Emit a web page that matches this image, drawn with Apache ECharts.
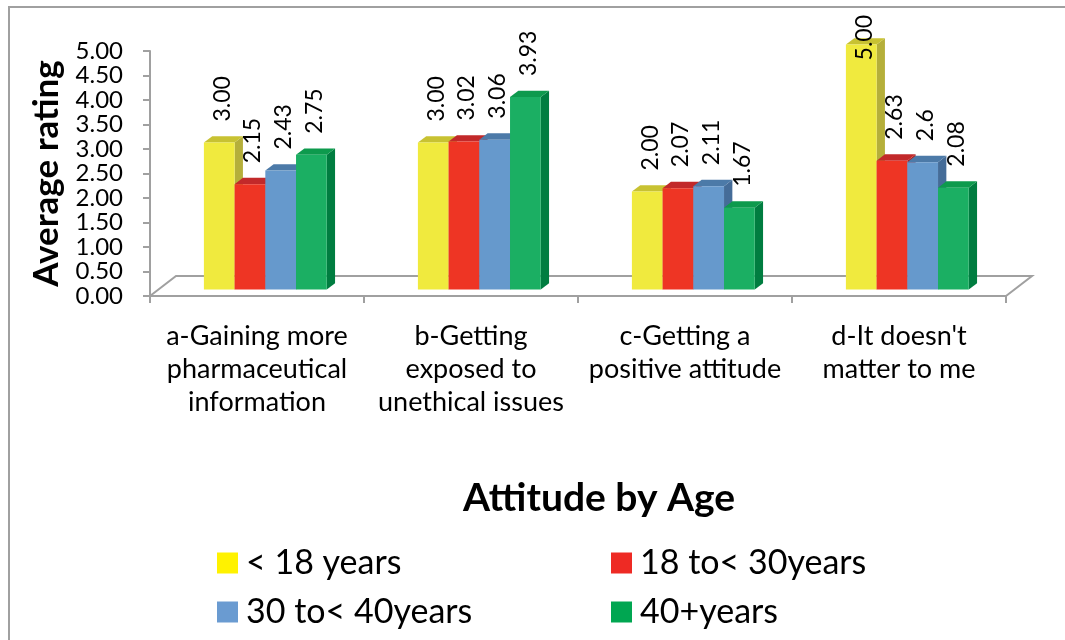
<!DOCTYPE html>
<html><head><meta charset="utf-8">
<script src="https://cdn.jsdelivr.net/npm/echarts@6/dist/echarts.min.js"></script>
<style>html,body{margin:0;padding:0;background:#fff}#c{width:1065px;height:640px}</style>
</head><body><div id="c"></div>
<script>
// ---- data ----
const categories = ['a-Gaining more\npharmaceutical\ninformation', 'b-Getting\nexposed to\nunethical issues', 'c-Getting a\npositive attitude', "d-It doesn't\nmatter to me"];
const seriesNames = ['< 18 years', '18 to< 30years', '30 to< 40years', '40+years'];
// values kept as printed labels (their numeric value is the bar height)
const under18 = ['3.00', '3.00', '2.00', '5.00'];
const age18to30 = ['2.15', '3.02', '2.07', '2.63'];
const age30to40 = ['2.43', '3.06', '2.11', '2.6'];
const age40plus = ['2.75', '3.93', '1.67', '2.08'];
const yMin = 0, yMax = 5, yInterval = 0.5;
const axisTitle = 'Attitude by Age';
const yAxisTitle = 'Average rating';

// ---- styles ----
const FONT = 'Lato';
const frontColors = ['#F0EA3E', '#EE3524', '#6699CC', '#1BAF63'];
const topColors = ['#C8C232', '#C2292A', '#4C7AA8', '#0D9A4D'];
const sideColors = ['#B5AF3A', '#AE2320', '#456C98', '#007D40'];
const legendColors = ['#FFF200', '#EE2A24', '#6A9BD1', '#00A651'];
const DEPTH = [26, 20];
const BAR_FRAC = 0.32;
const LABEL_FONT = 23;

const allSeries = [under18, age18to30, age30to40, age40plus];
const ctx = document.createElement('canvas').getContext('2d');
ctx.font = LABEL_FONT + 'px ' + FONT;

function barRender(si) {
  return function (params, api) {
    const cat = api.value(0), v = api.value(1);
    const base = api.coord([cat, 0]);
    const top = api.coord([cat, v]);
    const cw = api.size([1, 0])[0];
    const bw = cw * 0.1435;
    const sx = DEPTH[0] * BAR_FRAC, sy = DEPTH[1] * BAR_FRAC;
    const fx = base[0] - 2 * bw + si * bw + sx;
    const by = base[1] - sy;
    const ty = top[1] - sy;
    const txt = allSeries[si][params.dataIndex];
    const tw = ctx.measureText(txt).width;
    let lb = ty - 21;
    const minTop = params.coordSys.y - 36;
    if (lb - tw < minTop) lb = minTop + tw;
    return {
      type: 'group',
      children: [
        { type: 'polygon', shape: { points: [[fx + bw, by], [fx + bw + sx, by - sy], [fx + bw + sx, ty - sy], [fx + bw, ty]] }, style: { fill: sideColors[si] } },
        { type: 'polygon', shape: { points: [[fx, ty], [fx + bw, ty], [fx + bw + sx, ty - sy], [fx + sx, ty - sy]] }, style: { fill: topColors[si] } },
        { type: 'rect', shape: { x: fx, y: ty, width: bw, height: by - ty }, style: { fill: frontColors[si] } },
        { type: 'text', x: fx + bw / 2 + 3, y: lb, rotation: Math.PI / 2, z2: 10,
          style: { text: txt, x: 0, y: 0, align: 'left', verticalAlign: 'middle', fontSize: LABEL_FONT, fontFamily: FONT, fill: '#000' } }
      ]
    };
  };
}

function floorRender(params, api) {
  const cs = params.coordSys;
  const x0 = cs.x, x1 = cs.x + cs.width, y0 = cs.y + cs.height;
  return {
    type: 'polyline',
    shape: { points: [[x0, y0], [x0 + DEPTH[0], y0 - DEPTH[1]], [x1 + DEPTH[0], y0 - DEPTH[1]], [x1, y0]] },
    style: { stroke: '#A0A0A0', lineWidth: 2, fill: null }
  };
}

const series = [{
  type: 'custom', name: 'floor', silent: true, z: 1,
  renderItem: floorRender, data: [[0, 0]]
}];
allSeries.forEach((arr, si) => {
  series.push({
    type: 'custom', name: seriesNames[si], z: 2 + si,
    itemStyle: { color: legendColors[si] },
    renderItem: barRender(si),
    data: arr.map((s, i) => [i, Number(s)])
  });
});

const legendText = { fontFamily: FONT, fontSize: 34, color: '#000', padding: [0, 0, 0, 3] };
const chart = echarts.init(document.getElementById('c'), null, { renderer: 'canvas' });
chart.setOption({
  backgroundColor: '#ffffff',
  animation: false,
  textStyle: { fontFamily: FONT },
  graphic: [{ type: 'rect', shape: { x: 9, y: 7, width: 1100, height: 700 }, style: { fill: null, stroke: '#A0A0A0', lineWidth: 2 }, silent: true }],
  title: { text: axisTitle, left: 594, top: 474, textAlign: 'center',
    textStyle: { fontFamily: FONT, fontWeight: 'bold', fontSize: 39, color: '#000' } },
  legend: [
    { left: 217, top: 546, orient: 'vertical', padding: 0, height: 120, itemWidth: 21, itemHeight: 21, itemGap: 15, icon: 'rect',
      data: [seriesNames[0], seriesNames[2]], textStyle: legendText },
    { left: 611, top: 546, orient: 'vertical', padding: 0, height: 120, itemWidth: 21, itemHeight: 21, itemGap: 15, icon: 'rect',
      data: [seriesNames[1], seriesNames[3]], textStyle: legendText }
  ],
  grid: { left: 150, top: 51, width: 856, height: 245, containLabel: false },
  xAxis: {
    type: 'category', data: categories,
    axisLine: { lineStyle: { color: '#A0A0A0', width: 2 } },
    axisTick: { show: true, length: 7, lineStyle: { color: '#A0A0A0', width: 2 } },
    axisLabel: { interval: 0, color: '#000', fontFamily: FONT, fontSize: 27, lineHeight: 33, margin: 24 },
    splitLine: { show: false }
  },
  yAxis: {
    type: 'value', min: yMin, max: yMax, interval: yInterval,
    name: yAxisTitle, nameLocation: 'middle', nameGap: 86, nameRotate: 90,
    nameTextStyle: { fontFamily: FONT, fontWeight: 'bold', fontSize: 35, color: '#000' },
    axisLine: { show: true, lineStyle: { color: '#A0A0A0', width: 2 } },
    axisTick: { show: true, length: 7, lineStyle: { color: '#A0A0A0', width: 2 } },
    axisLabel: { color: '#000', fontFamily: FONT, fontSize: 24, margin: 27, formatter: v => v.toFixed(2) },
    splitLine: { show: false }
  },
  series: series
});
</script>
</body></html>
